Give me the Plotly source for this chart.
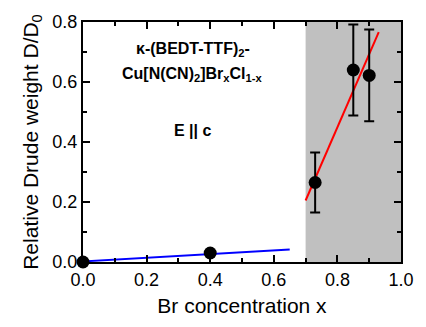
import plotly.graph_objects as go

# data
x_pts = [0.0, 0.4, 0.73, 0.85, 0.90]
y_pts = [0.0, 0.03, 0.265, 0.64, 0.622]
y_err = [0.0, 0.0, 0.10, 0.152, 0.153]

blue_x = [0.0, 0.65]
blue_y = [0.002, 0.042]
red_x = [0.70, 0.93]
red_y = [0.205, 0.766]

shade_range = [0.7, 1.0]

x_ticks = [0.0, 0.2, 0.4, 0.6, 0.8, 1.0]
y_ticks = [0.0, 0.2, 0.4, 0.6, 0.8]

FONT = "Liberation Sans, Arial, sans-serif"

fig = go.Figure()

fig.add_shape(type="rect", xref="x", yref="paper", x0=shade_range[0], x1=shade_range[1],
              y0=0, y1=1, fillcolor="#c0c0c0", line=dict(width=0), layer="below")

fig.add_trace(go.Scatter(x=blue_x, y=blue_y, mode="lines", line=dict(color="#0000ff", width=2), showlegend=False))
fig.add_trace(go.Scatter(x=red_x, y=red_y, mode="lines", line=dict(color="#ff0000", width=2), showlegend=False))
fig.add_trace(go.Scatter(x=x_pts, y=y_pts, mode="markers",
                         marker=dict(color="black", size=13),
                         error_y=dict(type="data", array=y_err, visible=True, color="black", thickness=2, width=5),
                         showlegend=False, cliponaxis=False))

axis_common = dict(showline=True, linecolor="black", linewidth=2, mirror="allticks",
                   ticks="inside", ticklen=7, tickwidth=1.5, tickcolor="black",
                   showgrid=False, zeroline=False,
                   tickfont=dict(family=FONT, size=18, color="black"),
                   minor=dict(ticks="inside", ticklen=4, tickwidth=1.5, tickcolor="black", dtick=0.1))

fig.update_xaxes(range=[0, 1.0], tickvals=x_ticks, ticktext=[f"{v:.1f}" for v in x_ticks],
                 title=dict(text="Br concentration x", font=dict(family=FONT, size=21, color="black"), standoff=10),
                 **axis_common)
fig.update_yaxes(range=[0, 0.8], tickvals=y_ticks, ticktext=[f"{v:.1f}" for v in y_ticks],
                 title=dict(text="Relative Drude weight D/D<sub>0</sub>", font=dict(family=FONT, size=21, color="black"), standoff=8),
                 **axis_common)

tfont = dict(family=FONT, size=16, color="black")
fig.add_annotation(x=0.345, y=0.71, xref="x", yref="y", text="<b>κ-(BEDT-TTF)<sub>2</sub>-</b>", showarrow=False, font=tfont)
fig.add_annotation(x=0.345, y=0.625, xref="x", yref="y", text="<b>Cu[N(CN)<sub>2</sub>]Br<sub>x</sub>Cl<sub>1-x</sub></b>", showarrow=False, font=tfont)
fig.add_annotation(x=0.345, y=0.44, xref="x", yref="y", text="<b>E || c</b>", showarrow=False, font=tfont)

fig.update_layout(width=426, height=327, margin=dict(l=83, r=20, t=17, b=65),
                  plot_bgcolor="white", paper_bgcolor="white")

fig.write_html("out.html")
